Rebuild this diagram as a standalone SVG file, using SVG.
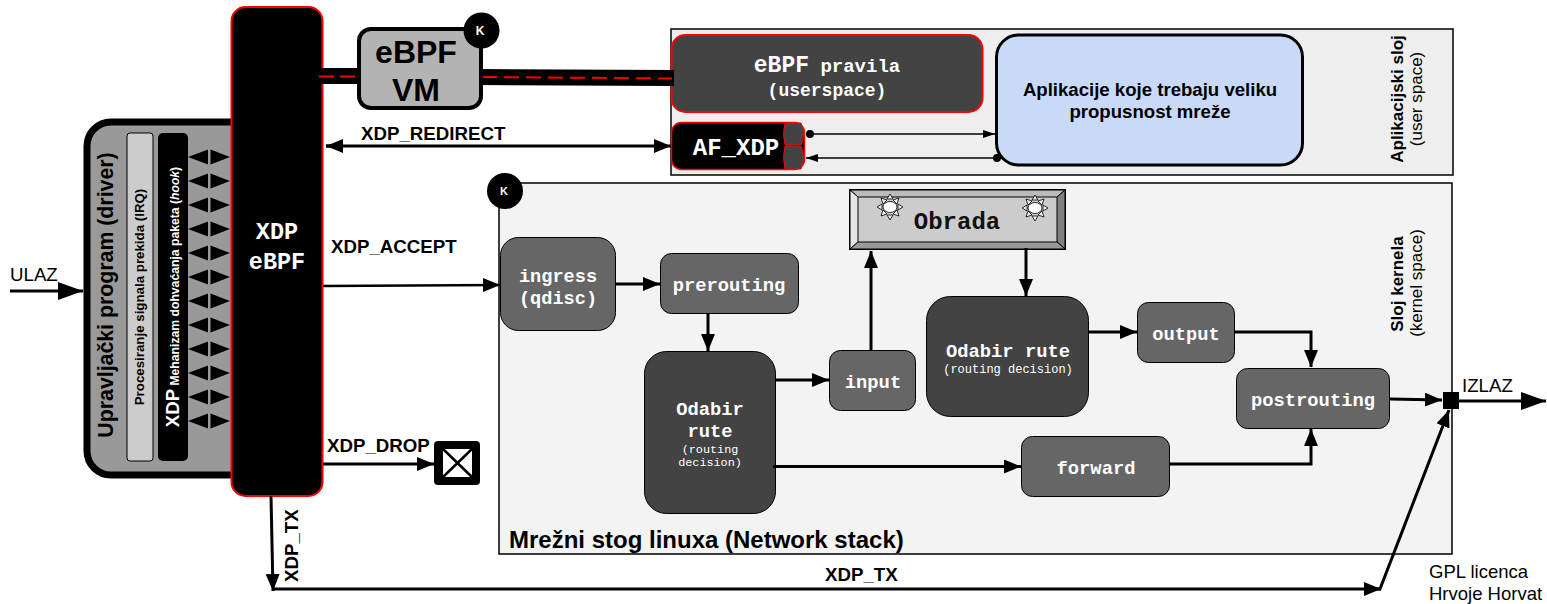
<svg xmlns="http://www.w3.org/2000/svg" width="1547" height="604" viewBox="0 0 1547 604">
<style>
text{font-family:"Liberation Sans",Arial,sans-serif;fill:#000}
.m{font-family:"Liberation Mono","Courier New",monospace;font-weight:700;fill:#fff;text-anchor:middle}
.b{font-weight:700}
.c{text-anchor:middle}
.n{fill:#666;stroke:#000;stroke-width:1}
.d{fill:#434343;stroke:#000;stroke-width:1}
.l{fill:none;stroke:#000;stroke-width:3}
.t{fill:none;stroke:#000;stroke-width:1.500}
.w{fill:none;stroke:#000;stroke-width:16}
.r{fill:none;stroke:#f00;stroke-width:2;stroke-dasharray:15 7}
</style>
<defs>
<marker id="a" markerUnits="userSpaceOnUse" markerWidth="18" markerHeight="16" refX="17" refY="7" orient="auto"><path d="M0 0L17 7L0 14Z" fill="#000"/></marker>
<marker id="big" markerUnits="userSpaceOnUse" markerWidth="26" markerHeight="20" refX="25" refY="9" orient="auto"><path d="M0 0L25 9L0 18Z" fill="#000"/></marker>
<marker id="s" markerUnits="userSpaceOnUse" markerWidth="14" markerHeight="10" refX="12" refY="4" orient="auto"><path d="M0 0L12 4L0 8Z" fill="#000"/></marker>
<path id="dbl" d="M188 0L208 -7.500V7.500ZM210.500 -7.500L230 0L210.500 7.500Z" fill="#000"/>
<g id="sun"><path d="M0 -13L3 -8H-3ZM0 13L3 8H-3ZM-13 0L-8 -3V3ZM13 0L8 -3V3ZM-9 -9L-3 -7L-7 -3ZM9 -9L3 -7L7 -3ZM-9 9L-3 7L-7 3ZM9 9L3 7L7 3Z" fill="#eee" stroke="#000" stroke-width=".8"/><ellipse rx="7" ry="5.500" fill="#fff" stroke="#000" stroke-width=".8"/></g>
</defs>

<g id="app-layer"><rect x="671" y="29" width="782" height="146" fill="#eee" stroke="#000" stroke-width="1.500"/>
<text transform="translate(1403 99) rotate(-90)" class="c b" font-size="17">Aplikacijski sloj</text>
<text transform="translate(1422 99) rotate(-90)" class="c" font-size="17">(user space)</text></g>
<g id="kernel-layer"><rect x="499" y="183" width="953" height="371" fill="#f3f3f3" stroke="#000" stroke-width="1.500"/>
<text transform="translate(1403 284) rotate(-90)" class="c b" font-size="17">Sloj kernela</text>
<text transform="translate(1422 283) rotate(-90)" class="c" font-size="17">(kernel space)</text>
<text x="509" y="548" class="b" font-size="24">Mrežni stog linuxa (Network stack)</text></g>

<g id="driver"><rect x="87" y="122" width="170" height="353" rx="24" fill="#999" stroke="#000" stroke-width="7"/>
<text transform="translate(113 295) rotate(-90)" class="c b" font-size="21.300">Upravljački program (driver)</text></g>
<g id="irq"><rect x="127" y="133" width="26" height="328" rx="3" fill="#ccc" stroke="#000"/>
<text transform="translate(144 297) rotate(-90)" class="c b" font-size="13.300">Procesiranje signala prekida (IRQ)</text></g>
<g id="hook"><rect x="158" y="133" width="30" height="328" rx="5" fill="#000"/>
<text transform="translate(179 297) rotate(-90)" class="c b" font-size="12.200" style="fill:#fff"><tspan font-size="18.600">XDP</tspan> Mehanizam dohvaćanja paketa (<tspan font-style="italic">hook</tspan>)</text></g>

<g id="xdp"><rect x="231.500" y="7" width="91" height="489" rx="14" fill="#000" stroke="#f00" stroke-width="2"/>
<text x="277" y="239" class="m" font-size="23.500">XDP</text><text x="277" y="269" class="m" font-size="23.500">eBPF</text></g>
<g id="rules"><rect x="671.500" y="35" width="311" height="77" rx="14" fill="#434343" stroke="#f00" stroke-width="2"/>
<text x="827" y="72" class="m" font-size="19"><tspan font-size="23">eBPF</tspan> pravila</text><text x="827" y="96" class="m" font-size="18">(userspace)</text></g>
<g id="apps"><rect x="996.500" y="35" width="306" height="130" rx="22" fill="#c9daf8" stroke="#000" stroke-width="3"/>
<text x="1150" y="96" class="c b" font-size="18.600">Aplikacije koje trebaju veliku</text><text x="1150" y="118" class="c b" font-size="18.600">propusnost mreže</text></g>
<g id="af"><rect x="671.500" y="122.500" width="133" height="47" rx="10" fill="#000" stroke="#f00" stroke-width="1.500"/>
<path d="M785 123H801Q806 134 801 145H785Q782 134 785 123ZM785 146H801Q806 158 801 169H785Q782 158 785 146Z" fill="#434343" stroke="#f00"/>
<text x="736" y="155" class="m" font-size="24">AF_XDP</text></g>
<g id="k2"><circle cx="505" cy="191" r="18" fill="#000"/><text x="504" y="195" class="c b" font-size="11" style="fill:#fff">K</text></g>
<g id="obrada"><rect x="849.500" y="189.500" width="216" height="60" fill="#ccc" stroke="#000"/>
<path d="M850 190L858 197H1057L1065 190Z" fill="#bbb" stroke="#000"/><path d="M850 190L858 197V242L850 249Z" fill="#e6e6e6" stroke="#000"/><path d="M1065 190L1057 197V242L1065 249Z" fill="#808080" stroke="#000"/><path d="M850 249L858 242H1057L1065 249Z" fill="#999" stroke="#000"/>
<use href="#sun" x="890" y="207"/><use href="#sun" x="1035" y="208"/>
<text x="957" y="229" class="m" font-size="24" style="fill:#111">Obrada</text></g>
<g id="ingress"><rect x="500.500" y="237.500" width="115" height="93" rx="18" class="n"/><text x="558" y="282" class="m" font-size="18.600">ingress</text><text x="558" y="304" class="m" font-size="18.600">(qdisc)</text></g>
<g id="prerouting"><rect x="660.500" y="253.500" width="138" height="60" rx="11" class="n"/><text x="729" y="291" class="m" font-size="18.800">prerouting</text></g>
<g id="route1"><rect x="644.500" y="351.500" width="131" height="162" rx="22" class="d"/><text x="710" y="415" class="m" font-size="18.800">Odabir</text><text x="710" y="437" class="m" font-size="18.800">rute</text><text x="710" y="453" class="m" font-size="11.800" style="font-weight:400">(routing</text><text x="710" y="466" class="m" font-size="11.800" style="font-weight:400">decision)</text></g>
<g id="input"><rect x="829.500" y="350.500" width="86" height="60" rx="11" class="n"/><text x="873" y="388" class="m" font-size="18.800">input</text></g>
<g id="route2"><rect x="926.500" y="296.500" width="162" height="120" rx="24" class="d"/><text x="1008" y="357" class="m" font-size="18.800">Odabir rute</text><text x="1008" y="373" class="m" font-size="12" style="font-weight:400">(routing decision)</text></g>
<g id="output"><rect x="1137.500" y="302.500" width="97" height="60" rx="11" class="n"/><text x="1186" y="340" class="m" font-size="18.800">output</text></g>
<g id="forward"><rect x="1021.500" y="436.500" width="148" height="60" rx="11" class="n"/><text x="1096" y="474" class="m" font-size="18.800">forward</text></g>
<g id="postrouting"><rect x="1236.500" y="368.500" width="153" height="60" rx="11" class="n"/><text x="1313" y="406" class="m" font-size="18.800">postrouting</text></g>
<g id="junction"><rect x="1443" y="392" width="16" height="17" fill="#000"/></g>
<g id="drop"><rect x="434" y="441" width="46" height="44" rx="4" fill="#000"/><rect x="443" y="449" width="29" height="28" fill="#fff"/><path d="M443 449L472 477M472 449L443 477" stroke="#000" stroke-width="2.500"/></g>

<g id="connectors">
<use href="#dbl" y="157"/><use href="#dbl" y="181"/><use href="#dbl" y="205"/><use href="#dbl" y="229"/><use href="#dbl" y="253"/><use href="#dbl" y="277"/><use href="#dbl" y="301"/><use href="#dbl" y="325"/><use href="#dbl" y="349"/><use href="#dbl" y="373"/><use href="#dbl" y="397"/><use href="#dbl" y="421"/>
<path d="M10 291H83" class="l" marker-end="url(#big)"/>
<path d="M320 76H360" class="w"/>
<path d="M480 77L674 78" class="w"/>
<path d="M319 76.500H358" class="r" style="stroke-dasharray:15 6"/>
<path d="M482 77L672 78.500" class="r"/>
<path d="M326 146H671" class="l" marker-end="url(#a)"/>
<path d="M342 146L326 146" class="l" marker-end="url(#a)"/>
<path d="M323 286L500 285" class="l" style="stroke-width:2.500" marker-end="url(#a)"/>
<path d="M323 464H434" class="l" marker-end="url(#a)"/>
<path d="M271 496L273 591" class="l" marker-end="url(#a)"/>
<path d="M272 589H1380L1449 410" class="l" marker-end="url(#a)"/>
<path d="M1365 589H1381" class="l" marker-end="url(#a)"/>
<path d="M810 134H995" class="t" marker-end="url(#s)"/><circle cx="810" cy="134" r="4"/>
<path d="M997 158H806" class="t" marker-end="url(#s)"/><circle cx="997" cy="158" r="4"/>
<path d="M615 284H660" class="l" marker-end="url(#a)"/>
<path d="M708 314V351" class="l" marker-end="url(#a)"/>
<path d="M776 380H829" class="l" marker-end="url(#a)"/>
<path d="M871 350V251" class="l" marker-end="url(#a)"/>
<path d="M1026 248V296" class="l" marker-end="url(#a)"/>
<path d="M1089 332H1137" class="l" marker-end="url(#a)"/>
<path d="M1235 332H1311V367" class="l" marker-end="url(#a)"/>
<path d="M773 466.500H1021" class="l" marker-end="url(#a)"/>
<path d="M1170 464H1311V429" class="l" marker-end="url(#a)"/>
<path d="M1390 399L1442 400" class="l" marker-end="url(#a)"/>
<path d="M1455 401H1546" class="l" marker-end="url(#big)"/>
</g>

<g id="vm"><rect x="359" y="29" width="122" height="79" rx="12" fill="#b3b3b3" stroke="#000" stroke-width="4"/>
<text x="416" y="63" class="c b" font-size="32">eBPF</text><text x="416" y="101" class="c b" font-size="32">VM</text></g>
<g id="k1"><circle cx="481.500" cy="30.500" r="18" fill="#000"/><text x="480" y="35" class="c b" font-size="12" style="fill:#fff">K</text></g>

<g id="labels">
<text x="10" y="281" font-size="18.700">ULAZ</text>
<text x="1462" y="392" font-size="18.700">IZLAZ</text>
<text x="361" y="140" class="b" font-size="18.700">XDP_REDIRECT</text>
<text x="331" y="253" class="b" font-size="18.700">XDP_ACCEPT</text>
<text x="327" y="452" class="b" font-size="18.700">XDP_DROP</text>
<text x="825" y="581" class="b" font-size="18.700">XDP_TX</text>
<text transform="translate(298 582) rotate(-90)" class="b" font-size="18.700">XDP_TX</text>
<text x="1429" y="578" font-size="18.500">GPL licenca</text>
<text x="1429" y="600" font-size="18.500">Hrvoje Horvat</text>
</g>
</svg>
